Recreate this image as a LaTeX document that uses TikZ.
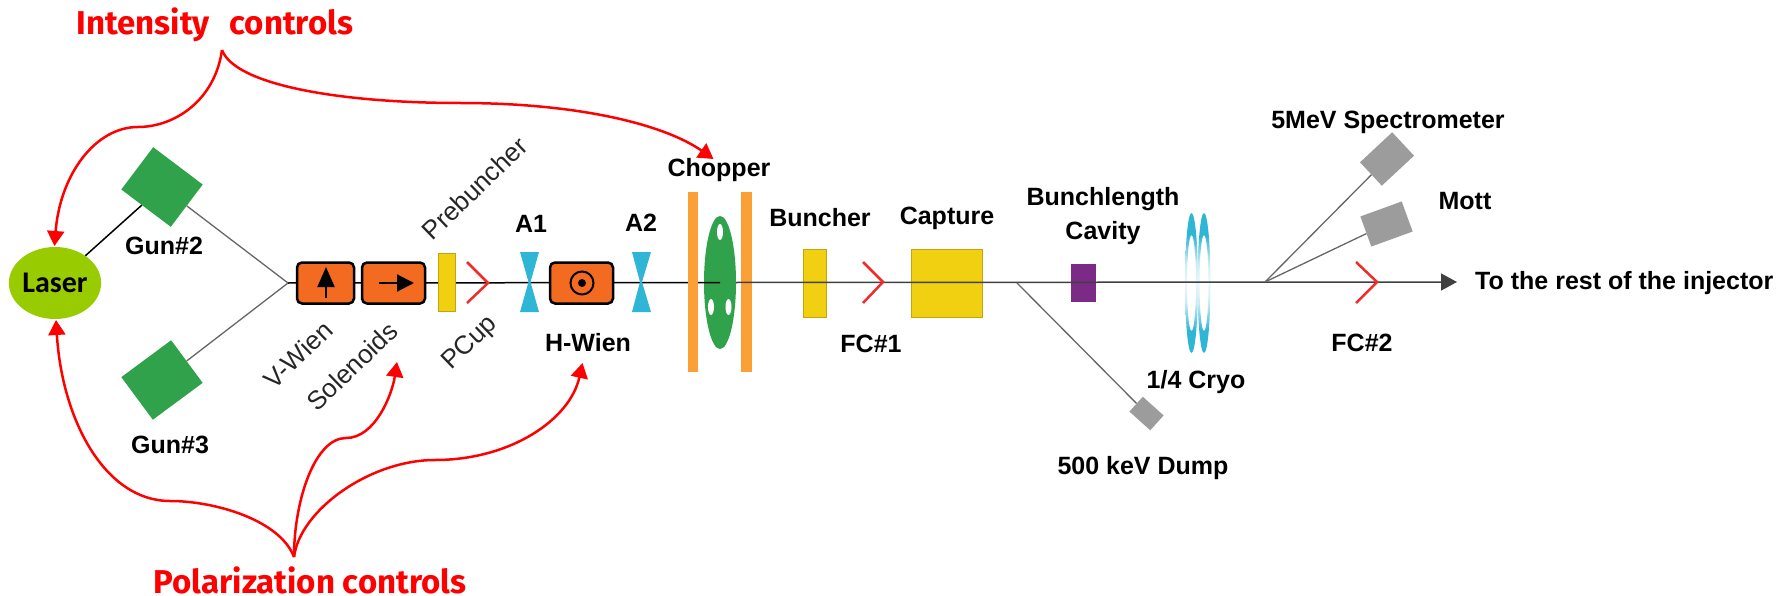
\documentclass[tikz,border=0pt]{standalone}
\usepackage{fontspec}
\setmainfont{Liberation Sans}
\newfontfamily\handfont{Fira Sans}
\newfontfamily\laserfont{Carlito}
\usetikzlibrary{arrows.meta, shapes.geometric}

\definecolor{gungreen}{HTML}{31A24C}
\definecolor{lasergreen}{HTML}{99CC00}
\definecolor{wienorange}{HTML}{F26B21}
\definecolor{plateorange}{HTML}{FBA037}
\definecolor{cavyellow}{HTML}{F0D010}
\definecolor{lenscyan}{HTML}{2FB5D5}
\definecolor{lenspurple}{HTML}{7B2A85}
\definecolor{dumpgray}{HTML}{9C9C9C}
\definecolor{cupred}{HTML}{EE2C2C}

\pgfdeclareverticalshading{lensfade}{100bp}{color(0bp)=(lenscyan); color(33bp)=(lenscyan); color(43bp)=(lenscyan!25); color(50bp)=(lenscyan!10); color(57bp)=(lenscyan!25); color(67bp)=(lenscyan); color(100bp)=(lenscyan)}

\tikzset{
	label bold/.style={font=\fontsize{25}{25}\selectfont\bfseries, inner sep=0pt},
	label slant/.style={font=\fontsize{26}{26}\selectfont, text=black!85, inner sep=0pt, rotate=44},
	control text/.style={font=\fontsize{33}{33}\selectfont\handfont\bfseries, text=red, inner sep=0pt},
	gun box/.style={fill=gungreen, inner sep=0pt, minimum width=62pt, minimum height=53pt},
	gray box/.style={fill=dumpgray, inner sep=0pt},
	wien box/.style={draw=black, line width=2.5pt, fill=wienorange, rounded corners=5pt, inner sep=0pt, minimum height=41pt},
	cavity box/.style={draw=black!20!cavyellow, line width=1pt, fill=cavyellow, inner sep=0pt},
	plate box/.style={fill=plateorange, inner sep=0pt, minimum height=180pt},
	cup line/.style={draw=cupred, line width=2.5pt},
	focus shape/.style={fill=lenscyan},
	side line/.style={draw=black!60, line width=1.3pt},
	control line/.style={draw=red, line width=2.5pt},
	control tip/.style={control line, -{Triangle[length=15pt,width=17pt]}},
}

\begin{document}
\begin{tikzpicture}[x=1pt, y=-1pt]

	\useasboundingbox (0,0) rectangle (1780,596);

	% guns and laser
	\node[ellipse, fill=lasergreen, minimum width=92pt, minimum height=72pt, inner sep=0pt, font=\fontsize{30}{30}\selectfont\laserfont\bfseries] (Laser) at (55,283) {Laser};
	\node[gun box, rotate=-37] (Gun2) at (162,187) {};
	\node[gun box, rotate=36.5] (Gun3) at (162,380) {};
	\coordinate (join) at (288,283);

	\draw[line width=1.5pt] (Laser) -- (Gun2);
	\draw[side line] (Gun2) -- (join);
	\draw[side line] (Gun3) -- (join);

	% chopper disc sits under the beam
	\node[ellipse, fill=gungreen, minimum width=32pt, minimum height=133pt, inner sep=0pt] (Disc) at (720,282.5) {};
	\fill[white] (720,232) ellipse (3pt and 8pt);
	\fill[white] (711,307) ellipse (3pt and 8pt);
	\fill[white] (728.5,307) ellipse (3pt and 8pt);

	\coordinate (split) at (1017,283);
	\coordinate (forkA) at (1265,282);
	\coordinate (beamend) at (1457,282);

	\node[cavity box, minimum width=23pt, minimum height=68pt] (Buncher) at (815,283) {};
	\node[cavity box, minimum width=71pt, minimum height=68pt] (Capture) at (947,283) {};
	\node[fill=lenspurple, minimum width=25pt, minimum height=38pt, inner sep=0pt] (Cavity) at (1083,283) {};

	% cryo rings
	\shade[shading=lensfade, even odd rule] (1191.5,283) ellipse (6.5pt and 70pt) (1191.5,283) ellipse (4.5pt and 48pt);
	\shade[shading=lensfade, even odd rule] (1204,283) ellipse (6.5pt and 70pt) (1204,283) ellipse (4.5pt and 48pt);

	% beam
	\draw[line width=1.5pt] (join) -- (Disc.center);
	\node[plate box, minimum width=10pt] (PlateA) at (693,282) {};
	\node[plate box, minimum width=11pt] (PlateB) at (746,282) {};
	\draw[line width=1.5pt, black!75, -{Triangle[length=16pt,width=17pt]}] (Disc.east) -- (beamend);

	\node[wien box, minimum width=57pt] (VWien) at (325.5,283) {};
	\node[wien box, minimum width=63pt] (Solenoid) at (393.5,283) {};
	\node[wien box, minimum width=63pt] (HWien) at (581.5,283) {};
	\node[cavity box, minimum width=17pt, minimum height=58pt] (Prebuncher) at (446.5,282) {};

	\draw[line width=2pt, -{Triangle[length=20pt,width=17pt]}] (326,298) -- (326,267);
	\draw[line width=2pt, -{Triangle[length=17pt,width=17pt]}] (379,283) -- (414,283);
	\node[draw, circle, line width=2pt, minimum size=23pt, inner sep=0pt] (Ring) at (582,283) {};
	\fill (Ring.center) circle (4pt);

	% apertures
	\fill[focus shape] (520,252) -- (539,252) -- (530.5,282) -- (539,312) -- (520,312) -- (528.5,282) -- cycle;
	\fill[focus shape] (632,252) -- (651,252) -- (642,282) -- (651,312) -- (632,312) -- (640,282) -- cycle;

	% faraday cups
	\draw[cup line] (467,262) -- (488,283) -- (467,303);
	\draw[cup line] (863,262) -- (883,282) -- (863,303);
	\draw[cup line] (1356,262) -- (1377,282) -- (1356,303);

	% side branches
	\node[gray box, minimum width=28pt, minimum height=20pt, rotate=-42] (Dump) at (1146.5,413.5) {};
	\node[gray box, minimum width=44pt, minimum height=32pt, rotate=43] (Spectro) at (1387,159) {};
	\node[gray box, minimum width=44pt, minimum height=32pt, rotate=20] (MottBox) at (1386.5,224) {};

	\draw[side line] (split) -- (Dump);
	\draw[side line] (forkA) -- (Spectro);
	\draw[side line] (forkA) -- (MottBox);

	% labels
	\node[label bold] (LGun2) at (164,246) {Gun\#2};
	\node[label bold] (LGun3) at (170,445) {Gun\#3};
	\node[label bold] (LA1) at (531,224) {A1};
	\node[label bold] (LA2) at (641,223) {A2};
	\node[label bold] (LHWien) at (588,343) {H-Wien};
	\node[label bold] (LChopper) at (719,170) {Chopper};
	\node[label bold] (LBuncher) at (820,218) {Buncher};
	\node[label bold] (LCapture) at (947,218) {Capture};
	\node[label bold] (LFC1) at (871,344) {FC\#1};
	\node[label bold] (LBunch) at (1103,199) {Bunchlength};
	\node[label bold] (LCavity) at (1103,233) {Cavity};
	\node[label bold] (LCryo) at (1196,382) {1/4 Cryo};
	\node[label bold] (LDump) at (1143,468) {500 keV Dump};
	\node[label bold] (LFC2) at (1362,343) {FC\#2};
	\node[label bold] (LSpectro) at (1388,122) {5MeV Spectrometer};
	\node[label bold] (LMott) at (1465,201) {Mott};
	\node[label bold, anchor=west] (LRest) at (1475,283) {To the rest of the injector};

	\node[label slant] (LPre) at (474.5,188) {Prebuncher};
	\node[label slant] (LVWien) at (298,355) {V-Wien};
	\node[label slant] (LSol) at (352,366) {Solenoids};
	\node[label slant] (LPCup) at (470,343) {PCup};

	% control arrows
	\node[control text] (Intensity) at (215,25) {Intensity\hspace{12pt} controls};
	\node[control text] (Polar) at (310,580) {Polarization controls};

	\coordinate (cuspI) at (222,50);
	\coordinate (bendIa) at (138,127);
	\coordinate (bendIb) at (460,103);
	\coordinate (tipLaserA) at (54.5,246);
	\coordinate (tipChopper) at (713.5,159);

	\draw[control line] (cuspI) .. controls (215,100) and (175,127) .. (bendIa);
	\draw[control tip] (bendIa) .. controls (95,127) and (60,175) .. (tipLaserA);
	\draw[control line] (cuspI) .. controls (235,85) and (340,103) .. (bendIb);
	\draw[control tip] (bendIb) .. controls (580,103) and (665,125) .. (tipChopper);

	\coordinate (cuspP) at (294,557);
	\coordinate (bendPa) at (170,501);
	\coordinate (bendPb) at (346,438);
	\coordinate (bendPc) at (435,460);
	\coordinate (tipLaserB) at (56,320);
	\coordinate (tipSol) at (397,362);
	\coordinate (tipHWien) at (582.5,363);

	\draw[control line] (cuspP) .. controls (280,520) and (215,501) .. (bendPa);
	\draw[control tip] (bendPa) .. controls (105,501) and (62,420) .. (tipLaserB);
	\draw[control line] (cuspP) .. controls (294,500) and (315,438) .. (bendPb);
	\draw[control tip] (bendPb) .. controls (375,438) and (392,395) .. (tipSol);
	\draw[control line] (cuspP) .. controls (300,510) and (370,460) .. (bendPc);
	\draw[control tip] (bendPc) .. controls (510,460) and (570,420) .. (tipHWien);

\end{tikzpicture}
\end{document}
